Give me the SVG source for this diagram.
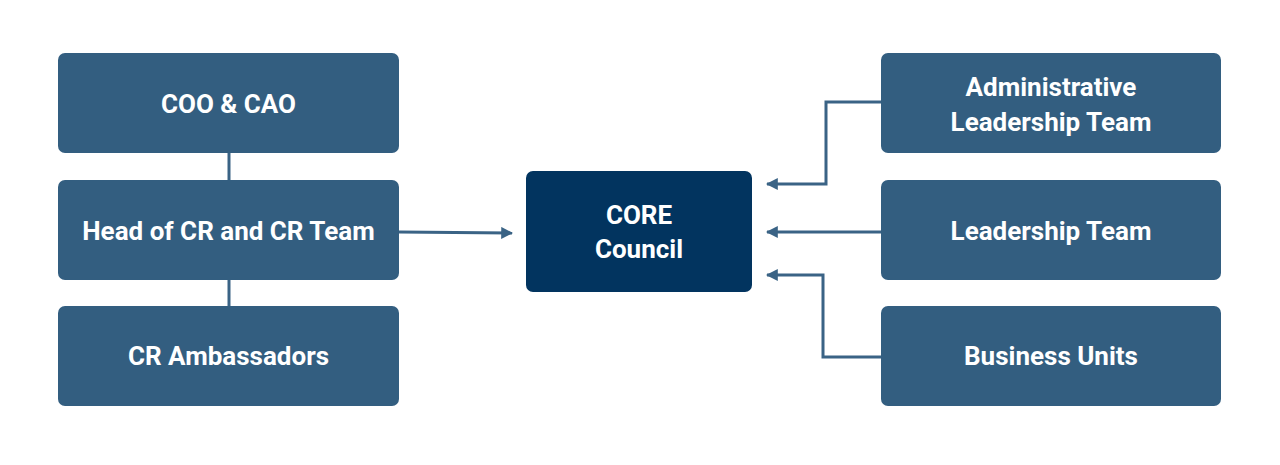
<svg xmlns="http://www.w3.org/2000/svg" width="1280" height="465" viewBox="0 0 1280 465">
<defs>
<style>
.box{fill:#335e80}
.core{fill:#02345f}
.t{font-family:Roboto,"Liberation Sans",sans-serif;font-weight:700;font-size:26px;fill:#ffffff;text-anchor:middle}
.c{fill:none;stroke:#3a6385;stroke-width:3}
</style>
<marker id="ah" viewBox="0 0 10 10" refX="9" refY="5" markerWidth="4" markerHeight="4" markerUnits="strokeWidth" orient="auto">
<path d="M0,0 L10,5 L0,10 z" fill="#3a6385"/>
</marker>
</defs>
<rect width="1280" height="465" fill="#ffffff"/>
<g id="connectors">
<line class="c" x1="229" y1="153" x2="229" y2="180"/>
<line class="c" x1="229" y1="280" x2="229" y2="306"/>
<polyline class="c" points="399,232 512,233" marker-end="url(#ah)"/>
<polyline class="c" points="881,102 826,102 826,184 767,184" marker-end="url(#ah)"/>
<polyline class="c" points="881,232 767,232" marker-end="url(#ah)"/>
<polyline class="c" points="881,357 823,357 823,275 767,275" marker-end="url(#ah)"/>
</g>
<g id="coo"><rect class="box" x="58" y="53" width="341" height="100" rx="7"/><text class="t" x="228.5" y="113">COO &amp; CAO</text></g>
<g id="head"><rect class="box" x="58" y="180" width="341" height="100" rx="7"/><text class="t" x="228.5" y="240">Head of CR and CR Team</text></g>
<g id="amb"><rect class="box" x="58" y="306" width="341" height="100" rx="7"/><text class="t" x="228.5" y="365">CR Ambassadors</text></g>
<g id="core"><rect class="core" x="526" y="171" width="226" height="121" rx="7"/><text class="t" x="639" y="224">CORE</text><text class="t" x="639" y="258">Council</text></g>
<g id="alt"><rect class="box" x="881" y="53" width="340" height="100" rx="7"/><text class="t" x="1051" y="96">Administrative</text><text class="t" x="1051" y="131">Leadership Team</text></g>
<g id="lt"><rect class="box" x="881" y="180" width="340" height="100" rx="7"/><text class="t" x="1051" y="240">Leadership Team</text></g>
<g id="bu"><rect class="box" x="881" y="306" width="340" height="100" rx="7"/><text class="t" x="1051" y="365">Business Units</text></g>
</svg>
